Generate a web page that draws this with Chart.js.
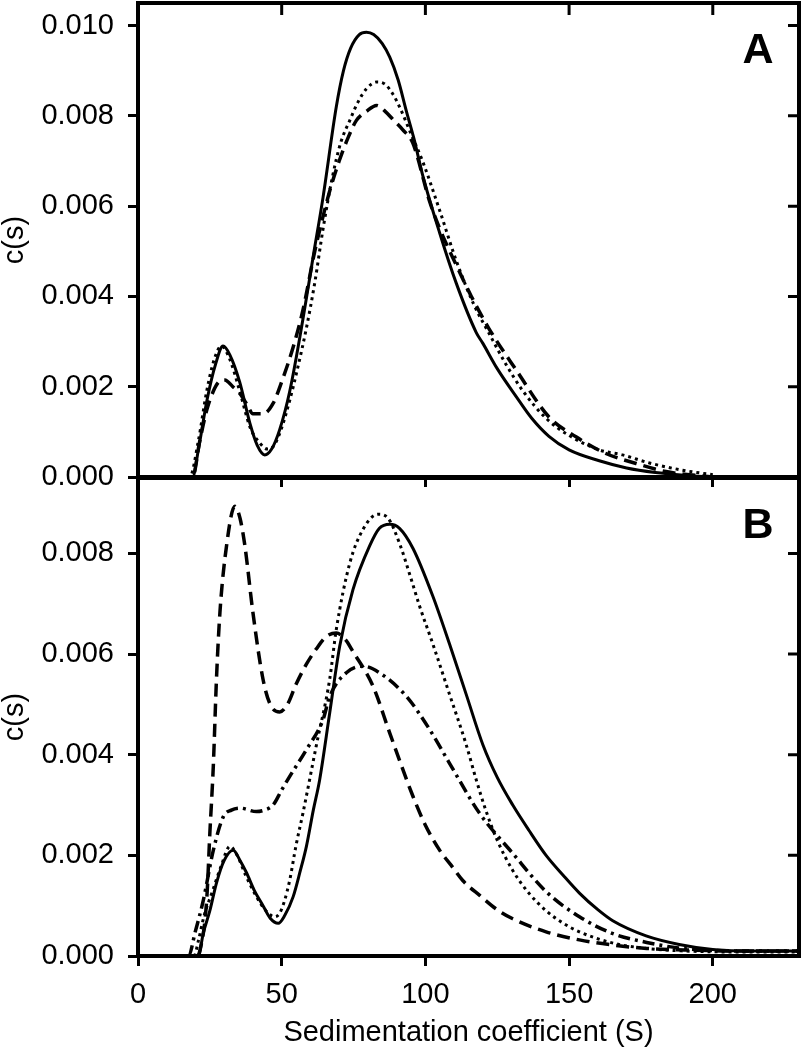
<!DOCTYPE html>
<html>
<head>
<meta charset="utf-8">
<script src="https://cdn.jsdelivr.net/npm/chart.js@4.4.1/dist/chart.umd.min.js"></script>
<style>
  body { margin: 0; background: #fff; }
  #wrap { position: relative; width: 802px; height: 1050px; }
  canvas { position: absolute; left: 0; }
</style>
</head>
<body>
<div id="wrap">
  <canvas id="chartA" width="802" height="495" style="top:0px"></canvas>
  <canvas id="chartB" width="802" height="572" style="top:478px"></canvas>
</div>
<script>
// Panel A - sedimentation coefficient (S) and c(s)
var aSolidS = [0, 19, 21, 24, 27, 29.6, 32, 35.4, 38.9, 41.5, 44.1, 46.5, 49.3, 52.8, 57.4, 61, 64.4, 69, 71.5, 74, 77, 79.5, 82, 85, 87.6, 90.5, 93.4, 96, 99, 105, 110.7, 117.7, 120, 125, 131.6, 137, 143, 150, 160.5, 170, 180, 190, 200];
var aSolidC = [0, 0, 0.0006, 0.0017, 0.0025, 0.0029, 0.0027, 0.0021, 0.0012, 0.0007, 0.00049, 0.00062, 0.00105, 0.0019, 0.0035, 0.0049, 0.0062, 0.0082, 0.009, 0.0095, 0.0098, 0.00985, 0.0098, 0.0096, 0.0093, 0.0088, 0.0081, 0.0075, 0.0067, 0.0054, 0.0043, 0.0032, 0.00296, 0.0024, 0.00178, 0.0013, 0.0009, 0.0006, 0.00036, 0.0002, 0.0001, 0.00004, 0];

var aDotS = [0, 18, 21, 23.9, 26.5, 29, 32, 35.4, 39, 42.4, 45, 47, 49.5, 52.8, 55.5, 58.6, 61.5, 64.4, 67.5, 70.5, 73.7, 76.5, 79.5, 83, 86, 88.5, 91, 95, 99, 105, 110.7, 117, 122, 128, 134, 142, 150, 160.5, 168.6, 178, 189.5, 200];
var aDotC = [0, 0, 0.0008, 0.0019, 0.0026, 0.0029, 0.0026, 0.0019, 0.0011, 0.00075, 0.00062, 0.00067, 0.001, 0.0017, 0.0024, 0.0033, 0.0043, 0.0055, 0.0066, 0.0074, 0.0079, 0.0083, 0.0086, 0.00875, 0.0087, 0.0085, 0.0082, 0.0076, 0.007, 0.0059, 0.0048, 0.0038, 0.0032, 0.0025, 0.0019, 0.0013, 0.00092, 0.0006, 0.00049, 0.00031, 0.00015, 0.00005];

var aDashS = [0, 19, 21.5, 24, 26.2, 28, 30.2, 33, 35.4, 38, 40, 43.5, 47, 50.5, 54, 57.4, 61.5, 64.3, 67, 70, 73, 76, 79.5, 83, 86, 89, 92, 95.6, 101.5, 105, 110.7, 116, 122, 131.6, 143, 152.4, 162.8, 173.3, 183.7, 192, 200];
var aDashC = [0, 0, 0.0008, 0.0015, 0.0019, 0.0021, 0.00215, 0.002, 0.00185, 0.0016, 0.0014, 0.0014, 0.00163, 0.0022, 0.00288, 0.0037, 0.005, 0.00575, 0.0064, 0.007, 0.0075, 0.0079, 0.0081, 0.00823, 0.0081, 0.0079, 0.0077, 0.0074, 0.0061, 0.0055, 0.0047, 0.004, 0.0033, 0.00237, 0.00133, 0.00089, 0.00052, 0.0003, 0.00012, 0.00005, 0];

// Panel B
var bSolidS = [0, 21, 22.7, 25, 27.3, 30, 33.1, 35.5, 37.8, 40.5, 43.5, 46, 48.8, 51, 54, 56.5, 58.6, 61, 63.2, 66.7, 70.2, 74.8, 80.6, 84, 87.6, 91, 95.7, 102.6, 108.4, 114.2, 120, 125, 130.4, 136, 142, 148, 153.6, 160, 165.2, 176.8, 188.3, 200, 215, 230];
var bSolidC = [0, 0, 0.00045, 0.0009, 0.00145, 0.0019, 0.0021, 0.0019, 0.00165, 0.0013, 0.001, 0.00075, 0.00065, 0.0008, 0.00118, 0.0017, 0.00218, 0.0029, 0.0035, 0.00483, 0.00616, 0.00728, 0.00815, 0.0085, 0.00858, 0.0085, 0.0081, 0.00715, 0.0062, 0.0052, 0.0042, 0.00355, 0.003, 0.0025, 0.002, 0.0016, 0.00125, 0.00092, 0.0007, 0.0004, 0.00023, 0.00013, 0.0001, 0.0001];

var bDotS = [0, 19.5, 21, 23, 26, 29, 32, 34.5, 37.5, 41, 44.5, 47.5, 49.3, 51, 52.8, 55, 57.4, 62, 66.7, 69, 73.7, 78.3, 83.5, 87, 91, 95, 98, 102.6, 108.4, 114.2, 117.7, 121, 125, 130.4, 136, 142, 148, 153.6, 165, 177, 190, 210, 230];
var bDotC = [0, 0, 0.0003, 0.0008, 0.0013, 0.0018, 0.00218, 0.002, 0.0016, 0.0012, 0.0009, 0.00078, 0.00085, 0.0011, 0.00151, 0.0022, 0.00284, 0.00417, 0.0055, 0.00649, 0.00781, 0.00848, 0.00878, 0.0087, 0.0082, 0.0075, 0.00695, 0.0062, 0.0052, 0.0042, 0.0035, 0.0029, 0.0023, 0.0017, 0.00125, 0.0009, 0.00065, 0.00048, 0.00026, 0.00015, 0.0001, 0.00008, 0.00008];

var bDashS = [0, 20.5, 21.5, 23.9, 25, 26.2, 27.3, 28.5, 30.8, 33.7, 35.5, 37.2, 40, 43.5, 46, 49.3, 52, 55, 58.6, 62, 65.5, 69, 72, 74.8, 81.8, 87.6, 95.7, 100, 105, 109, 113, 119, 125, 130.4, 142, 153.6, 165, 177, 190, 210, 230];
var bDashC = [0, 0, 0.0001, 0.00111, 0.00244, 0.00377, 0.0055, 0.00682, 0.00815, 0.00894, 0.0087, 0.00815, 0.00682, 0.0055, 0.005, 0.00485, 0.005, 0.0054, 0.0058, 0.0061, 0.00635, 0.00642, 0.0063, 0.00605, 0.00536, 0.00443, 0.00317, 0.0026, 0.0021, 0.0018, 0.0015, 0.0012, 0.00092, 0.00074, 0.00048, 0.00032, 0.00022, 0.00015, 0.00012, 0.0001, 0.0001];

var bDashDotS = [0, 17.5, 20, 22.7, 26.2, 29.7, 32.5, 35.4, 41.2, 44, 47, 50, 52.8, 58.6, 64.4, 66.7, 72.5, 78.3, 84, 93.4, 101.5, 108.4, 118.8, 130.4, 142, 153.6, 165, 177, 188, 200, 215, 230];
var bDashDotC = [0, 0, 0.0005, 0.0011, 0.0021, 0.00277, 0.0029, 0.00294, 0.00287, 0.0029, 0.003, 0.0033, 0.00357, 0.0041, 0.0047, 0.00516, 0.00563, 0.00576, 0.00563, 0.00516, 0.0045, 0.00383, 0.00284, 0.00204, 0.00128, 0.00078, 0.00045, 0.00027, 0.00016, 0.00011, 0.0001, 0.0001];

var xTickStep = 50;
var yTickStep = 0.002;

var FONT = 'Arial, "Liberation Sans", sans-serif';

//Pair up S values and c(s) values into points
var pts = function(xs, ys) {
  return xs.map(function(x, i) { return { x: x, y: ys[i] }; });
};

var line = function(xs, ys, dash, width) {
  return {
    data: pts(xs, ys),
    borderColor: '#000',
    borderWidth: width,
    borderDash: dash,
    borderCapStyle: 'butt',
    pointRadius: 0,
    fill: false,
    tension: 0.4,
    cubicInterpolationMode: 'monotone'
  };
};

//Draw top/right frame, inside ticks and the panel letter
var frameTicks = {
  id: 'frameTicks',
  afterDraw: function(chart, args, opts) {
    var ctx = chart.ctx;
    var area = chart.chartArea;
    var xs = chart.scales.x;
    var ys = chart.scales.y;
    ctx.save();
    ctx.strokeStyle = '#000';
    ctx.lineWidth = 4;
    ctx.beginPath();
    ctx.moveTo(area.left - 2, area.top);
    ctx.lineTo(area.right, area.top);
    ctx.lineTo(area.right, area.bottom + 2);
    ctx.stroke();

    ctx.lineWidth = 3;
    ctx.beginPath();
    if (opts.topTicks) {
      xs.ticks.forEach(function(t) {
        if (t.value <= xs.min) return;
        var px = xs.getPixelForValue(t.value);
        ctx.moveTo(px, area.top);
        ctx.lineTo(px, area.top + 12);
      });
    }
    ys.ticks.forEach(function(t) {
      if (t.value <= ys.min) return;
      var py = ys.getPixelForValue(t.value);
      ctx.moveTo(area.right, py);
      ctx.lineTo(area.right - 11, py);
    });
    ctx.stroke();

    ctx.fillStyle = '#000';
    ctx.font = 'bold 43px ' + FONT;
    ctx.textAlign = 'center';
    ctx.textBaseline = 'alphabetic';
    ctx.fillText(opts.label, area.right - 41, area.top + opts.labelY);
    ctx.restore();
  }
};

var yAxis = function(max) {
  return {
    type: 'linear',
    min: 0,
    max: max,
    afterFit: function(scale) {
      scale.width = 138;
      scale.paddingTop = 0;
      scale.paddingBottom = 0;
    },
    border: { color: '#000', width: 4 },
    grid: { drawOnChartArea: false, drawTicks: true, tickLength: 10, tickWidth: 3, tickColor: '#000' },
    ticks: {
      stepSize: yTickStep,
      includeBounds: false,
      padding: 14,
      color: '#000',
      font: { family: FONT, size: 29 },
      callback: function(v) { return v.toFixed(3); }
    },
    title: {
      display: true,
      text: 'c(s)',
      color: '#000',
      padding: 0,
      font: { family: FONT, size: 29, lineHeight: 1.05 }
    }
  };
};

var xFit = function(h) {
  return function(scale) {
    scale.height = h;
    scale.paddingLeft = 0;
    scale.paddingRight = 0;
  };
};

var createChartA = function() {
  var ctx = document.getElementById('chartA').getContext('2d');
  new Chart(ctx, {
    type: 'line',
    data: {
      datasets: [
        line(aDashS, aDashC, [13, 7], 3.5),
        line(aDotS, aDotC, [3, 4], 3),
        line(aSolidS, aSolidC, [], 3)
      ]
    },
    options: {
      responsive: false,
      animation: false,
      devicePixelRatio: 1,
      layout: { padding: { top: 3, right: 3, left: 0, bottom: 0 } },
      plugins: {
        legend: { display: false },
        tooltip: { enabled: false },
        frameTicks: { topTicks: true, label: 'A', labelY: 60 }
      },
      scales: {
        x: {
          type: 'linear',
          min: 0,
          max: 230,
          afterFit: xFit(18),
          border: { color: '#000', width: 4 },
          grid: { drawOnChartArea: false, drawTicks: true, tickLength: 10, tickWidth: 3, tickColor: '#000' },
          ticks: { stepSize: xTickStep, includeBounds: false, display: false }
        },
        y: yAxis(0.0105)
      }
    },
    plugins: [frameTicks]
  });
};

var createChartB = function() {
  var ctx = document.getElementById('chartB').getContext('2d');
  new Chart(ctx, {
    type: 'line',
    data: {
      datasets: [
        line(bDashS, bDashC, [13, 7], 3.5),
        line(bDashDotS, bDashDotC, [12, 5, 3, 5], 3.5),
        line(bDotS, bDotC, [3, 4], 3),
        line(bSolidS, bSolidC, [], 3)
      ]
    },
    options: {
      responsive: false,
      animation: false,
      devicePixelRatio: 1,
      layout: { padding: { top: 0, right: 3, left: 0, bottom: 0 } },
      plugins: {
        legend: { display: false },
        tooltip: { enabled: false },
        frameTicks: { topTicks: false, label: 'B', labelY: 60 }
      },
      scales: {
        x: {
          type: 'linear',
          min: 0,
          max: 230,
          afterFit: xFit(94),
          border: { color: '#000', width: 4 },
          grid: { drawOnChartArea: false, drawTicks: true, tickLength: 10, tickWidth: 3, tickColor: '#000' },
          ticks: {
            stepSize: xTickStep,
            includeBounds: false,
            padding: 12,
            maxRotation: 0,
            color: '#000',
            font: { family: FONT, size: 29 }
          },
          title: {
            display: true,
            text: 'Sedimentation coefficient (S)',
            color: '#000',
            padding: 0,
            font: { family: FONT, size: 29 }
          }
        },
        y: yAxis(0.0095)
      }
    },
    plugins: [frameTicks]
  });
};

createChartA();
createChartB();
</script>
</body>
</html>
